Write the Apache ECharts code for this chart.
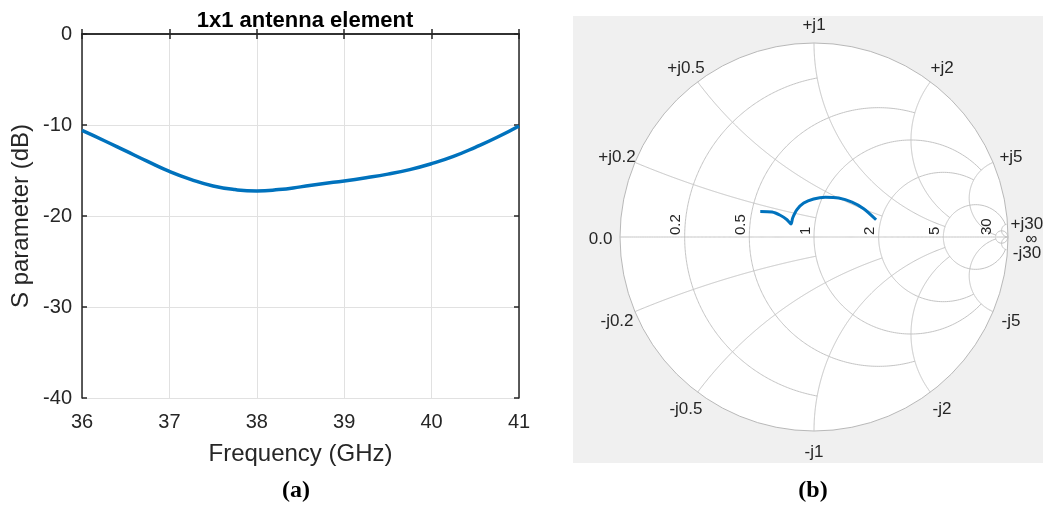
<!DOCTYPE html>
<html>
<head>
<meta charset="utf-8">
<script src="https://cdn.jsdelivr.net/npm/echarts@6/dist/echarts.min.js"></script>
<style>
  html, body { margin: 0; padding: 0; background: #fff; }
  #chart { width: 1044px; height: 508px; }
</style>
</head>
<body>
<div id="chart"></div>
<script>
// (a) S11 of the 1x1 element
const freqGHz = [36, 36.25, 36.5, 36.75, 37, 37.25, 37.5, 37.75, 38, 38.25, 38.5,
  38.75, 39, 39.25, 39.5, 39.75, 40, 40.25, 40.5, 40.75, 41];
const s11dB = [-10.6, -11.7, -12.85, -14.0, -15.1, -16.0, -16.7, -17.1, -17.25, -17.1, -16.8,
  -16.45, -16.15, -15.8, -15.4, -14.9, -14.25, -13.45, -12.45, -11.35, -10.1];

// (b) reflection coefficient locus on the Smith chart
const smithRe = [-0.277, -0.216, -0.174, -0.139, -0.119, -0.110, -0.088, -0.053, -0.002,
  0.058, 0.127, 0.196, 0.256, 0.320];
const smithIm = [0.132, 0.129, 0.112, 0.089, 0.067, 0.098, 0.141, 0.175, 0.196,
  0.205, 0.201, 0.180, 0.146, 0.089];

// Smith grid: circle values and how far each one runs
const resistanceValues = [0.2, 0.5, 1, 2, 5, 30];
const resistanceLimits = [1, 2, 5, 5, 30, Infinity];
const reactanceValues = [0.2, 0.5, 1, 2, 5, 30];
const reactanceLimits = [1, 2, 5, 5, 30, Infinity];
const resistanceLabels = ['0.2', '0.5', '1', '2', '5', '30'];
const reactanceLabels = ['0.2', '0.5', '1', '2', '5', '30'];

const FONT = '"Liberation Sans", Arial, Helvetica, sans-serif';
const AXIS_COLOR = '#262626';
const GRID_GRAY = '#c4c4c4';

// z = r + jx  ->  gamma
function gamma(r, x) {
  const d = (r + 1) * (r + 1) + x * x;
  return [(r * r + x * x - 1) / d, 2 * x / d];
}

// list of grid curves (real axis + resistance circles + reactance arcs)
const curves = [{ kind: 'x', value: 0, limit: Infinity }];
resistanceValues.forEach((v, i) => curves.push({ kind: 'r', value: v, limit: resistanceLimits[i] }));
reactanceValues.forEach((v, i) => {
  curves.push({ kind: 'x', value: v, limit: reactanceLimits[i] });
  curves.push({ kind: 'x', value: -v, limit: reactanceLimits[i] });
});

function curvePoints(c) {
  const pts = [];
  const n = 300;
  const a = Math.atan(c.limit);
  for (let k = 0; k <= n; k++) {
    if (c.kind === 'r') {
      const phi = -a + 2 * a * k / n;
      pts.push(gamma(c.value, Math.tan(phi)));
    } else {
      const psi = a * k / n;
      pts.push(gamma(Math.tan(psi), c.value));
    }
  }
  return pts;
}

// text labels of the Smith chart
const smithTexts = [{ name: '0.0', pos: [-1.1, 0], rot: false }];
resistanceValues.forEach((v, i) => {
  smithTexts.push({ name: resistanceLabels[i], pos: [(v - 1) / (v + 1), 0], rot: true });
});
reactanceValues.forEach((v, i) => {
  const g = gamma(0, v);
  smithTexts.push({ name: '+j' + reactanceLabels[i], pos: [g[0] * 1.1, g[1] * 1.1], rot: false });
  smithTexts.push({ name: '-j' + reactanceLabels[i], pos: [g[0] * 1.1, -g[1] * 1.1], rot: false });
});
smithTexts.push({ name: '\u221e', pos: [1.12, 0], rot: false });

const chart = echarts.init(document.getElementById('chart'), null, { renderer: 'canvas' });

const option = {
  animation: false,
  backgroundColor: '#ffffff',
  title: [
    {
      text: '1x1 antenna element', left: 300, top: 5, textAlign: 'center',
      textStyle: { fontFamily: FONT, fontSize: 22, fontWeight: 'bold', color: '#000' }
    },
    {
      text: '(a)', left: 291, top: 474, textAlign: 'center',
      textStyle: { fontFamily: '"Liberation Serif", "Times New Roman", serif', fontSize: 24, fontWeight: 'bold', color: '#000' }
    },
    {
      text: '(b)', left: 808, top: 474, textAlign: 'center',
      textStyle: { fontFamily: '"Liberation Serif", "Times New Roman", serif', fontSize: 24, fontWeight: 'bold', color: '#000' }
    }
  ],
  grid: [
    { left: 82, top: 34, width: 437, height: 364 },
    { left: 620, top: 43, width: 388, height: 388 },
    { left: 573, top: 16, width: 470, height: 447, show: true, backgroundColor: '#f0f0f0', borderWidth: 0 }
  ],
  xAxis: [
    {
      gridIndex: 0, type: 'value', min: 36, max: 41, interval: 1,
      name: 'Frequency (GHz)', nameLocation: 'middle', nameGap: 44,
      nameTextStyle: { fontFamily: FONT, fontSize: 24, color: AXIS_COLOR },
      axisLine: { show: true, lineStyle: { color: AXIS_COLOR, width: 1.5 } },
      axisTick: { show: true, inside: true, length: 5, lineStyle: { color: AXIS_COLOR, width: 1.5 } },
      axisLabel: { fontFamily: FONT, fontSize: 20, color: AXIS_COLOR, margin: 14 },
      splitLine: { show: true, lineStyle: { color: '#e1e1e1', width: 1 } }
    },
    {
      gridIndex: 0, type: 'value', position: 'top', min: 36, max: 41, interval: 1,
      axisLine: { show: true, lineStyle: { color: AXIS_COLOR, width: 1.5 } },
      axisTick: { show: true, inside: true, length: 5, lineStyle: { color: AXIS_COLOR, width: 1.5 } },
      axisLabel: { show: false }, splitLine: { show: false }
    },
    { gridIndex: 1, type: 'value', min: -1, max: 1, show: false },
    { gridIndex: 2, type: 'value', min: 0, max: 1, show: false }
  ],
  yAxis: [
    {
      gridIndex: 0, type: 'value', min: -40, max: 0, interval: 10,
      name: 'S parameter (dB)', nameLocation: 'middle', nameGap: 49,
      nameTextStyle: { fontFamily: FONT, fontSize: 24, color: AXIS_COLOR },
      axisLine: { show: true, lineStyle: { color: AXIS_COLOR, width: 1.5 } },
      axisTick: { show: true, inside: true, length: 5, lineStyle: { color: AXIS_COLOR, width: 1.5 } },
      axisLabel: { fontFamily: FONT, fontSize: 20, color: AXIS_COLOR, margin: 10 },
      splitLine: { show: true, lineStyle: { color: '#e1e1e1', width: 1 } }
    },
    {
      gridIndex: 0, type: 'value', position: 'right', min: -40, max: 0, interval: 10,
      axisLine: { show: true, lineStyle: { color: AXIS_COLOR, width: 1.5 } },
      axisTick: { show: true, inside: true, length: 5, lineStyle: { color: AXIS_COLOR, width: 1.5 } },
      axisLabel: { show: false }, splitLine: { show: false }
    },
    { gridIndex: 1, type: 'value', min: -1, max: 1, show: false },
    { gridIndex: 2, type: 'value', min: 0, max: 1, show: false }
  ],
  series: [
    {
      name: 'S11', type: 'line', xAxisIndex: 0, yAxisIndex: 0,
      data: freqGHz.map((f, i) => [f, s11dB[i]]),
      smooth: 0.5, showSymbol: false, z: 5,
      lineStyle: { color: '#0072BD', width: 3.5 }
    },
    {
      // white disk and outer circle of the Smith chart
      type: 'custom', xAxisIndex: 2, yAxisIndex: 2, silent: true, z: 2,
      data: [[0, 0]],
      renderItem: function (params, api) {
        const c = api.coord([0, 0]);
        const r = api.size([1, 1])[0];
        return {
          type: 'circle',
          shape: { cx: c[0], cy: c[1], r: r },
          style: { fill: '#ffffff', stroke: '#b8b8b8', lineWidth: 1 }
        };
      }
    },
    {
      // resistance circles and reactance arcs
      type: 'custom', xAxisIndex: 2, yAxisIndex: 2, silent: true, z: 3,
      data: curves.map(() => [0, 0]),
      renderItem: function (params, api) {
        const pts = curvePoints(curves[params.dataIndex]).map(p => api.coord(p));
        return {
          type: 'polyline',
          shape: { points: pts },
          style: { stroke: GRID_GRAY, lineWidth: 1, fill: null }
        };
      }
    },
    {
      // grid labels
      type: 'custom', xAxisIndex: 2, yAxisIndex: 2, silent: true, z: 4,
      data: smithTexts.map(() => [0, 0]),
      renderItem: function (params, api) {
        const t = smithTexts[params.dataIndex];
        const p = api.coord(t.pos);
        if (t.rot) {
          return {
            type: 'text', x: p[0] - 1, y: p[1] - 2, rotation: Math.PI / 2,
            style: { text: t.name, font: '15px ' + FONT, fill: AXIS_COLOR, align: 'left', verticalAlign: 'bottom' }
          };
        }
        return {
          type: 'text', x: p[0], y: p[1] + 2,
          style: { text: t.name, font: '17px ' + FONT, fill: AXIS_COLOR, align: 'center', verticalAlign: 'middle' }
        };
      }
    },
    {
      name: 'Gamma', type: 'line', xAxisIndex: 2, yAxisIndex: 2,
      data: smithRe.map((x, i) => [x, smithIm[i]]),
      smooth: 0.3, showSymbol: false, z: 6,
      lineStyle: { color: '#0072BD', width: 3 }
    }
  ]
};

chart.setOption(option);
</script>
</body>
</html>
